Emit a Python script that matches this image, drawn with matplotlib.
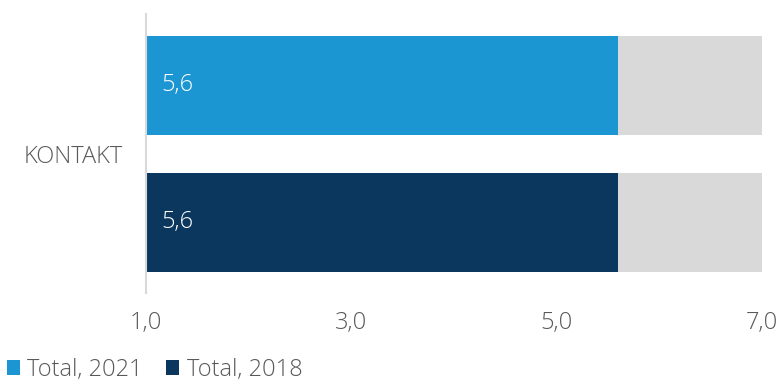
import matplotlib.pyplot as plt
from matplotlib.patches import Patch

# Datos
categoria = "KONTAKT"
series = ["Total, 2021", "Total, 2018"]
valores = [5.6, 5.6]
colores = ["#1C96D3", "#0B365E"]
escala_min, escala_max = 1.0, 7.0
ticks_x = [1, 3, 5, 7]

plt.rcParams['font.family'] = ['Open Sans', 'DejaVu Sans']
plt.rcParams['font.weight'] = 'light'
gris_texto = "#595959"
tam = 17

fig = plt.figure(figsize=(7.82, 3.82), dpi=100)
ax = fig.add_axes([146 / 782, 89 / 382, 616 / 782, 279 / 382])

# Posiciones: 2021 arriba, 2018 abajo
pos = [1, 0]
alto = 0.72

# Barra gris de fondo hasta el máximo de la escala
ax.barh(pos, [escala_max - escala_min] * len(pos), left=escala_min,
        height=alto, color="#D9D9D9", zorder=1)
ax.barh(pos, [v - escala_min for v in valores], left=escala_min,
        height=alto, color=colores, zorder=2)

for p, v in zip(pos, valores):
    ax.text(escala_min + 0.15, p, f"{v:.1f}".replace(".", ","),
            color="white", fontsize=tam,
            va="center", ha="left", zorder=3)

ax.set_xlim(escala_min, escala_max)
ax.set_ylim(-0.515, 1.52)

ax.set_xticks(ticks_x)
ax.set_xticklabels([f"{t:.1f}".replace(".", ",") for t in ticks_x],
                   fontsize=tam, color=gris_texto)
ax.set_yticks([0.5])
ax.set_yticklabels([categoria], fontsize=tam, color=gris_texto)
ax.tick_params(axis="x", length=0, pad=13)
ax.tick_params(axis="y", length=0, pad=17)

for lado in ["top", "right", "bottom"]:
    ax.spines[lado].set_visible(False)
ax.spines["left"].set_color("#D9D9D9")
ax.spines["left"].set_linewidth(1.5)
ax.spines["left"].set_zorder(4)

handles = [Patch(facecolor=c, edgecolor="none") for c in colores]
leg = fig.legend(handles, series, loc="lower left",
                 bbox_to_anchor=(-0.018, -0.055), ncol=2, frameon=False,
                 handlelength=0.55, handleheight=0.55,
                 handletextpad=0.3, columnspacing=1.0,
                 prop={"size": tam, "weight": "light"})
for t in leg.get_texts():
    t.set_color(gris_texto)

fig.savefig("out.png", dpi=100)
